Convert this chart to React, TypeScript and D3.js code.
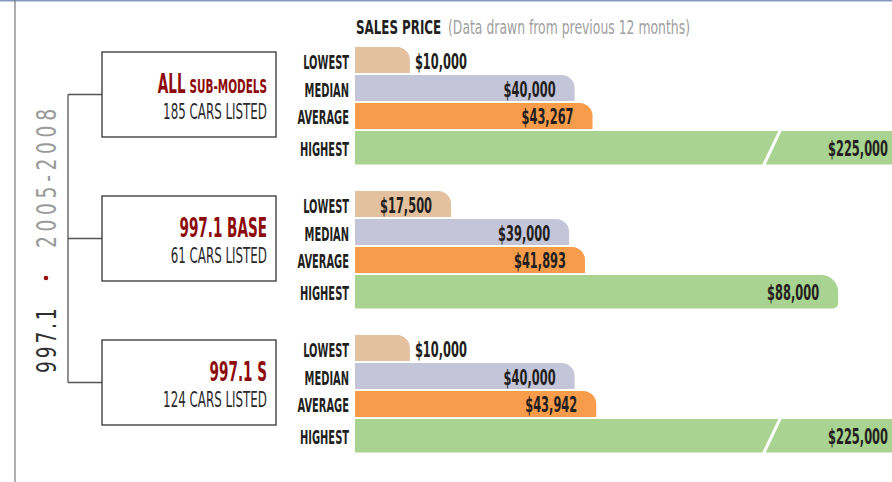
import React from "react";
import * as d3 from "d3";

// ---- data ----
const groupTitles = ["ALL", "997.1 BASE", "997.1 S"];
const groupTitleSuffix = ["SUB-MODELS", "", ""];
const carsListed = [185, 61, 124];
const metrics = ["LOWEST", "MEDIAN", "AVERAGE", "HIGHEST"];
const lowest = [10000, 17500, 10000];
const median = [40000, 39000, 40000];
const average = [43267, 41893, 43942];
const highest = [225000, 88000, 225000];
const modelLabel = "997.1";
const yearsLabel = "2005-2008";
const chartTitle = "SALES PRICE";
const chartSubtitle = "(Data drawn from previous 12 months)";

const metricColors = ["#e3c19f", "#c5c5da", "#f79c4a", "#a9d390"];

const W = 892;
const H = 482;
const FONT = "'Liberation Sans Narrow', 'DejaVu Sans Condensed', 'Arial Narrow', sans-serif";
const DARK = "#231f20";
const RED = "#8e0b0b";

function CText({ x, y, sx = 1, anchor = "start", size, weight = "normal", fill = DARK, children, ls }: any) {
  return (
    <text
      transform={`translate(${x},${y}) scale(${sx},1)`}
      textAnchor={anchor}
      fontFamily={FONT}
      fontSize={size}
      fontWeight={weight}
      fill={fill}
      letterSpacing={ls}
    >
      {children}
    </text>
  );
}

const fmt = (v: number) => "$" + d3.format(",")(v);

export default function App() {
  const x = d3.scaleLinear().domain([0, 100000]).range([355, 904]);
  const gy = d3.scaleBand<string>().domain(groupTitles).range([47, 47 + 432]).paddingInner(0);
  const ry = d3.scaleBand<string>().domain(metrics).range([0, 110]).paddingInner(0.07);
  const bw = ry.bandwidth();
  const rowH = (m: string) => (m === "HIGHEST" ? bw + 7.5 : bw);

  const series = [lowest, median, average, highest];
  const labelRight = x(0) - 6;
  const maxV = x.domain()[1];
  const breakX = 772;

  const boxX0 = 102;
  const boxX1 = 276;
  const boxH = 85;
  const bracketX = 68;

  const barPath = (x0: number, y0: number, x1: number, h: number, tall: boolean) => {
    const r = Math.min(h / 2, x1 - x0);
    const rb = tall ? 5 : 0;
    const y1 = y0 + h;
    return `M${x0},${y0}H${x1 - r}A${r},${r} 0 0 1 ${x1},${y0 + r}V${y1 - rb}${rb ? `A${rb},${rb} 0 0 1 ${x1 - rb},${y1}` : ""}H${x0}Z`;
  };

  const centers = groupTitles.map((g) => (gy(g) as number) + 47.5);

  return (
    <svg width={W} height={H} style={{ position: "absolute", left: 0, top: 0, display: "block", background: "#fff" }}>
      <defs>
        <clipPath id="plotclip">
          <rect x={0} y={0} width={W} height={H} />
        </clipPath>
      </defs>
      {/* frame */}
      <line x1={0} x2={W} y1={0.75} y2={0.75} stroke="#8597c0" strokeWidth={1.5} />
      <line x1={15} x2={15} y1={0} y2={H} stroke="#7a7a7a" strokeWidth={1.2} />

      {/* vertical model/year label */}
      <text transform="translate(56,373) rotate(-90) scale(0.8,1)" fontFamily={FONT} fontSize={26} fill="#2e2e2e" letterSpacing={3.5}>
        {modelLabel}
      </text>
      <circle cx={46} cy={278} r={2.3} fill="#9b0d0d" />
      <text transform="translate(56,248) rotate(-90) scale(0.8,1)" fontFamily={FONT} fontSize={26} fill="#9a9a9a" letterSpacing={5.8}>
        {yearsLabel}
      </text>

      {/* bracket */}
      <line x1={bracketX} x2={bracketX} y1={centers[0]} y2={centers[centers.length - 1]} stroke="#555" strokeWidth={1.3} />
      {centers.map((c, i) => (
        <line key={"h" + i} x1={bracketX} x2={boxX0} y1={c} y2={c} stroke="#555" strokeWidth={1.3} />
      ))}

      {/* boxes */}
      {groupTitles.map((g, i) => {
        const c = centers[i];
        return (
          <g key={"box" + g}>
            <rect x={boxX0} y={c - boxH / 2} width={boxX1 - boxX0} height={boxH} fill="#fff" stroke="#333" strokeWidth={1.3} />
            <CText x={267} y={c - 2} sx={0.58} anchor="end" size={26} weight="bold" fill={RED}>
              <tspan>{g}</tspan>
              {groupTitleSuffix[i] ? (
                <tspan fontSize={20} dx={7}>
                  {groupTitleSuffix[i]}
                </tspan>
              ) : null}
            </CText>
            <CText x={267} y={c + 24} sx={0.6} anchor="end" size={22} fill="#2a2a2a">
              {`${carsListed[i]} CARS LISTED`}
            </CText>
          </g>
        );
      })}

      {/* header */}
      <CText x={356} y={34} sx={0.66} size={20} weight="bold">
        {chartTitle}
      </CText>
      <CText x={448} y={34} sx={0.69} size={20} fill="#a0a0a0">
        {chartSubtitle}
      </CText>

      {/* bars */}
      <g clipPath="url(#plotclip)">
        {groupTitles.map((g, gi) => {
          const top = gy(g) as number;
          return (
            <g key={"bars" + g}>
              {metrics.map((m, mi) => {
                const v = series[mi][gi];
                const y0 = top + (ry(m) as number);
                const h = rowH(m);
                const broken = v > maxV;
                const x0 = x(0);
                const x1 = broken ? W + 30 : x(v);
                const cy = y0 + h / 2;
                const inside = x1 - x0 > 80;
                const valX = broken ? W - 4 : inside ? x1 - 19 : x1 + 5;
                return (
                  <g key={m}>
                    <path d={barPath(x0, y0, x1, h, m === "HIGHEST")} fill={metricColors[mi]} />
                    {broken ? (
                      <line x1={breakX + 8.5} y1={y0 - 1} x2={breakX - 8.5} y2={y0 + h + 1} stroke="#fff" strokeWidth={3} />
                    ) : null}
                    <CText x={labelRight} y={cy + 8.5} sx={0.55} anchor="end" size={20} weight="bold">
                      {m}
                    </CText>
                    <CText x={valX} y={cy + 8.5} sx={0.62} anchor={inside || broken ? "end" : "start"} size={20.5} weight="bold">
                      {fmt(v)}
                    </CText>
                  </g>
                );
              })}
            </g>
          );
        })}
      </g>
    </svg>
  );
}
